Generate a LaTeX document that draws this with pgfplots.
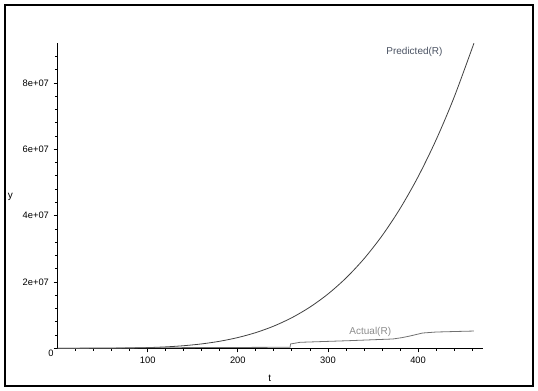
\documentclass[border=0pt]{standalone}
\usepackage{fontspec}
\setmainfont{Liberation Sans}
\usepackage{pgfplots}
\pgfplotsset{compat=1.18}

\definecolor{predline}{HTML}{404040}
\definecolor{predtext}{HTML}{4A5262}
\definecolor{actline}{HTML}{707070}
\definecolor{acttext}{HTML}{8C8C8C}

\begin{document}
\begin{tikzpicture}
\useasboundingbox (0,0) rectangle (403.5pt,292.5pt);
\draw[line width=1pt] (3.75pt,3pt) rectangle (399.75pt,288.75pt);
\begin{axis}[
    at={(43.2pt,31.3pt)}, anchor=south west,
    scale only axis,
    width=319pt, height=228.75pt,
    xmin=0, xmax=472, ymin=0, ymax=9.2e7,
    axis lines=left,
    axis line style={-, line width=1pt},
    xtick={100,200,300,400},
    minor xtick={20,40,60,80,120,140,160,180,220,240,260,280,320,340,360,380,420,440,460},
    ytick={2e7,4e7,6e7,8e7},
    yticklabels={2e+07,4e+07,6e+07,8e+07},
    extra y ticks={0},
    extra y tick labels={0},
    extra y tick style={yticklabel style={xshift=3.5pt, yshift=-3.5pt}},
    minor ytick={4e6,8e6,12e6,16e6,24e6,28e6,32e6,36e6,44e6,48e6,52e6,56e6,64e6,68e6,72e6,76e6,84e6,88e6},
    scaled y ticks=false,
    tick align=outside,
    major tick length=3pt, minor tick length=2pt,
    tick style={black, line width=0.6pt},
    /pgf/number format/assume math mode=true,
    tick label style={font=\fontsize{7}{8}\selectfont},
    xlabel={t}, ylabel={y},
    label style={font=\fontsize{7.5}{9}\selectfont},
    xlabel style={at={(axis description cs:0.499,-0.097)}, anchor=center},
    ylabel style={rotate=-90, at={(axis description cs:-0.111,0.496)}, anchor=center},
    clip=false,
]
\addplot[predline, line width=0.6pt, smooth] coordinates {
 (0,0) (20,323) (40,5171) (60,26179) (80,82739) (100,202000) (120,418867)
 (140,776003) (160,1323827) (180,2120515) (200,3232000) (220,4731971)
 (240,6701875) (260,9230915) (280,12416051) (300,16362000) (320,21181235)
 (340,26993987) (360,33928243) (380,42119747) (400,51712000) (420,62856259)
 (440,75711539) (462,92000000)
};
\addplot[actline, line width=0.6pt] coordinates {
 (0,0) (100,150000) (200,250000) (258,300000) (258.5,1300000) (269,1800000)
 (324,2300000) (372,2800000) (382,3200000) (391,3700000) (405,4600000)
 (420,4900000) (440,5050000) (462,5200000)
};
\node[predtext, font=\fontsize{7.5}{9}\selectfont] at (axis cs:396,8.95e7) {Predicted(R)};
\node[acttext, font=\fontsize{7.5}{9}\selectfont] at (axis cs:347,4.9e6) {Actual(R)};
\end{axis}
\end{tikzpicture}
\end{document}
